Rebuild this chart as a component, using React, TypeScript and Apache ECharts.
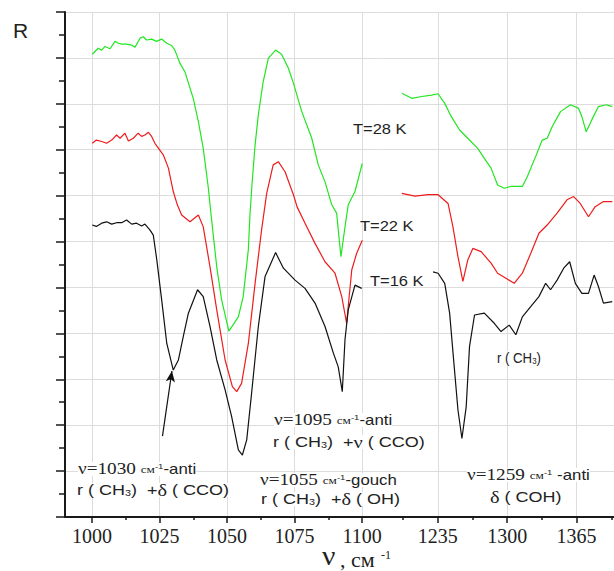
import React, { useEffect, useRef } from 'react';
import * as echarts from 'echarts';

// ---- axis ticks ----
const leftMajorTicks = [1000, 1025, 1050, 1075, 1100];
const leftMinorTicks = [1012.5, 1037.5, 1062.5, 1087.5];
const rightMajorTicks = [1235, 1300, 1365];
const rightMinorTicks = [1202.5, 1267.5, 1332.5, 1397.5];

// ---- left panel (1000-1100 cm-1) ----
const greenLeftX = [1000.1, 1001.1, 1002.3, 1003.6, 1004.8, 1006.7, 1008.5, 1009.8, 1011, 1012.8, 1014.7, 1015.9, 1017.8, 1019, 1020.2, 1022.1, 1023.9, 1025.8, 1027.7, 1029.5, 1030.7, 1032.6, 1034.4, 1037.5, 1039.4, 1041.2, 1043.1, 1044.1, 1046.2, 1048, 1050.7, 1054.2, 1056, 1057.9, 1058.5, 1059.2, 1060.4, 1061.6, 1063.4, 1065.3, 1068, 1070.2, 1072.7, 1074.6, 1077.7, 1081.4, 1083.8, 1086.3, 1088.8, 1090.6, 1092.2, 1093.7, 1094.9, 1097.4, 1100.1];
const greenLeftY = [10.08, 10.14, 10.21, 10.17, 10.25, 10.2, 10.36, 10.32, 10.3, 10.3, 10.28, 10.23, 10.43, 10.46, 10.39, 10.41, 10.36, 10.41, 10.32, 10.27, 10.17, 9.88, 9.7, 9.12, 8.61, 8.03, 7.16, 6.58, 5.45, 4.73, 4.05, 4.36, 4.8, 5.82, 6.58, 7.2, 8.1, 8.76, 9.48, 9.99, 10.17, 10.08, 9.78, 9.45, 8.83, 8.25, 7.67, 7.3, 6.8, 6.62, 5.67, 6.32, 6.8, 7.09, 7.7];

const redLeftX = [1000.1, 1001.6, 1003.6, 1005.4, 1007.3, 1009.1, 1010.4, 1012.2, 1013.5, 1015.3, 1017.1, 1018.4, 1019.6, 1020.9, 1022.1, 1023.3, 1026.4, 1028.3, 1030.1, 1031.6, 1033.2, 1036.3, 1039.4, 1041.2, 1043.7, 1046.2, 1049.3, 1052, 1053.6, 1055.4, 1057.9, 1060.4, 1062.8, 1064.7, 1067.1, 1069, 1071.5, 1074.6, 1076, 1078.9, 1082.6, 1086.3, 1090, 1092.5, 1094.3, 1096.2, 1098, 1100.1];
const redLeftY = [8.14, 8.21, 8.18, 8.14, 8.21, 8.32, 8.25, 8.36, 8.19, 8.25, 8.36, 8.29, 8.32, 8.38, 8.29, 8.14, 7.89, 7.6, 7.09, 6.8, 6.58, 6.43, 6.58, 6.32, 5.45, 4.51, 3.42, 2.84, 2.73, 2.91, 3.78, 5.09, 6.25, 7.05, 7.67, 7.74, 7.52, 7.02, 6.75, 6.4, 5.96, 5.56, 5.31, 4.8, 4.22, 5.38, 5.74, 6.03];

const blackLeftX = [1000.1, 1001.6, 1003.6, 1005.4, 1007.3, 1009.1, 1011, 1012.8, 1014.7, 1016.5, 1018.4, 1019.6, 1021.5, 1022.7, 1024, 1025.8, 1027.7, 1030.1, 1032, 1033.8, 1035.7, 1039.1, 1041.2, 1043.7, 1046.2, 1049.3, 1051.7, 1054.2, 1055.7, 1057.3, 1059.1, 1061.6, 1064.1, 1068, 1070.9, 1075.2, 1078.9, 1082.6, 1086.3, 1089.4, 1091.2, 1092.7, 1093.7, 1094.9, 1097.4, 1099.9];
const blackLeftY = [6.36, 6.33, 6.4, 6.43, 6.38, 6.41, 6.41, 6.47, 6.38, 6.4, 6.34, 6.38, 6.25, 6.14, 5.6, 4.73, 3.78, 3.2, 3.42, 3.93, 4.44, 4.95, 4.8, 4.15, 3.42, 2.77, 2.19, 1.46, 1.35, 1.68, 2.69, 4.15, 5.24, 5.76, 5.42, 5.16, 4.98, 4.66, 4.15, 3.57, 3.27, 2.73, 3.86, 4.51, 5.05, 4.98];

// ---- right panel (1235-1365 cm-1) ----
const greenRightX = [1201.3, 1210.6, 1219.9, 1229.2, 1235.3, 1241.5, 1247.7, 1255.4, 1263.1, 1272.4, 1278.6, 1284.9, 1291, 1297.2, 1303.4, 1314.2, 1318.8, 1326.6, 1332.8, 1337.4, 1342.1, 1349.9, 1359.2, 1366.9, 1369.9, 1374, 1379.2, 1385.4, 1393.1, 1398.4];
const greenRightY = [9.23, 9.12, 9.16, 9.19, 9.22, 9.01, 8.72, 8.43, 8.25, 8.03, 7.81, 7.6, 7.23, 7.16, 7.2, 7.2, 7.41, 7.85, 8.21, 8.25, 8.5, 8.83, 8.98, 8.9, 8.72, 8.39, 8.65, 8.94, 8.98, 8.94];

const redRightX = [1201.3, 1213.6, 1226, 1235.3, 1244.6, 1249.2, 1253.9, 1258.5, 1263.1, 1267.8, 1275.6, 1284.9, 1291, 1298.8, 1306.5, 1314.2, 1322, 1329.7, 1337.4, 1346.7, 1356, 1362.2, 1368.4, 1376.1, 1382.4, 1390.1, 1398.4];
const redRightY = [7.05, 6.99, 7.02, 7.02, 6.83, 6.32, 5.67, 5.13, 5.6, 5.85, 5.78, 5.53, 5.31, 5.2, 5.09, 5.31, 5.74, 6.18, 6.36, 6.62, 6.91, 6.98, 6.83, 6.54, 6.76, 6.87, 6.87];

const blackRightX = [1230.6, 1235.3, 1241.5, 1246.1, 1250.1, 1253.9, 1257.6, 1261.6, 1264.7, 1269.4, 1278.6, 1287.9, 1294.2, 1301.9, 1308.1, 1314.2, 1322, 1329.7, 1336, 1340.6, 1346.7, 1352.9, 1358.5, 1363.8, 1369.9, 1376.1, 1381.4, 1385.4, 1390.1, 1398.4];
const blackRightY = [5.34, 5.31, 5.09, 4.44, 3.35, 2.33, 1.71, 2.4, 3.71, 4.4, 4.44, 4.22, 4.04, 4.18, 3.97, 4.36, 4.58, 4.8, 5.09, 4.95, 5.16, 5.42, 5.56, 5.09, 4.87, 4.87, 5.27, 5.02, 4.66, 4.69];

// arrow pointing at the 1030 band of the 16 K curve
const arrowFrom = [1026.1, 1.76];
const arrowTo = [1029.6, 3.18];

const GREEN = '#22e622';
const RED = '#ee1c1c';
const BLACK = '#111111';
const SERIF = '"Liberation Serif", "Times New Roman", serif';
const SANS = '"Liberation Sans", Arial, sans-serif';
const GRID = '#dcdcdc';
const AXIS = '#1a1a1a';

const pairs = (xs: number[], ys: number[]) => xs.map((x, i) => [x, ys[i]]);

const richStyles = {
  s: { fontFamily: SERIF, fontSize: 16, lineHeight: 14 },
  c: { fontFamily: SERIF, fontSize: 11, lineHeight: 14 },
  p: { fontFamily: SANS, fontSize: 8, lineHeight: 8, verticalAlign: 'top' },
  a: { fontFamily: SANS, fontSize: 14, lineHeight: 14 },
  t: { fontFamily: SANS, fontSize: 15, lineHeight: 14 },
  b: { fontFamily: SANS, fontSize: 9, lineHeight: 9, verticalAlign: 'bottom' },
  d: { fontFamily: SERIF, fontSize: 17, lineHeight: 14 },
};

const label = (x: number, y: number, text: string, scaleX = 1.2, bg = true) => ({
  type: 'text',
  x,
  y,
  scaleX,
  silent: true,
  z: 100,
  style: {
    text,
    rich: richStyles,
    fill: '#222',
    verticalAlign: 'middle',
    align: 'left',
    backgroundColor: bg ? '#ffffff' : undefined,
  },
});

const plain = (x: number, y: number, text: string, size: number, scaleX = 1, family = SANS, lineHeight?: number) => ({
  type: 'text',
  x,
  y,
  scaleX,
  silent: true,
  z: 100,
  style: { text, fill: '#222', fontFamily: family, fontSize: size, lineHeight, verticalAlign: 'middle', align: 'left' },
});

export default function App() {
  const ref = useRef<HTMLDivElement>(null);
  useEffect(() => {
    if (!ref.current) return;
    const chart = echarts.init(ref.current, null, { renderer: 'svg' });
    const lineSeries = (name: string, data: number[][], color: string, xi: number, yi: number, extra = {}) => ({
      name,
      type: 'line',
      xAxisIndex: xi,
      yAxisIndex: yi,
      data,
      showSymbol: false,
      symbol: 'none',
      lineStyle: { color, width: 1.2 },
      itemStyle: { color },
      ...extra,
    });
    const fmt = (v: number) => String(v);
    const option = {
      animation: false,
      textStyle: { fontFamily: SANS },
      grid: [
        { left: 65, top: 12, width: 317.25, height: 505 },
        { left: 382.25, top: 12, width: 233.7, height: 505 },
      ],
      xAxis: [
        {
          type: 'value', gridIndex: 0, min: 990, max: 1107.5, position: 'bottom',
          axisLine: { onZero: false, lineStyle: { color: AXIS, width: 2 } },
          axisTick: { customValues: leftMajorTicks, length: 6, lineStyle: { color: AXIS, width: 1.5 } },
          axisLabel: { customValues: leftMajorTicks, formatter: fmt, fontFamily: SERIF, fontSize: 20, color: '#222', margin: 9 },
          splitLine: { show: true, lineStyle: { color: GRID, width: 1 } },
        },
        {
          type: 'value', gridIndex: 0, min: 990, max: 1107.5, position: 'bottom',
          axisLine: { show: false, onZero: false },
          axisTick: { customValues: leftMinorTicks, length: 3, lineStyle: { color: AXIS, width: 1.5 } },
          axisLabel: { show: false },
          splitLine: { show: false },
        },
        {
          type: 'value', gridIndex: 1, min: 1183, max: 1400, position: 'bottom',
          axisLine: { onZero: false, lineStyle: { color: AXIS, width: 2 } },
          axisTick: { customValues: rightMajorTicks, length: 6, lineStyle: { color: AXIS, width: 1.5 } },
          axisLabel: { customValues: rightMajorTicks, formatter: fmt, fontFamily: SERIF, fontSize: 20, color: '#222', margin: 9 },
          splitLine: { show: true, lineStyle: { color: GRID, width: 1 } },
        },
        {
          type: 'value', gridIndex: 1, min: 1183, max: 1400, position: 'bottom',
          axisLine: { show: false, onZero: false },
          axisTick: { customValues: rightMinorTicks, length: 3, lineStyle: { color: AXIS, width: 1.5 } },
          axisLabel: { show: false },
          splitLine: { show: false },
        },
      ],
      yAxis: [
        {
          type: 'value', gridIndex: 0, min: 0, max: 11, interval: 1,
          axisLine: { show: true, onZero: false, lineStyle: { color: AXIS, width: 2 } },
          axisTick: { show: true, length: 9, lineStyle: { color: AXIS, width: 1.5 } },
          minorTick: { show: true, splitNumber: 2, length: 6, lineStyle: { color: AXIS, width: 1.5 } },
          axisLabel: { show: false },
          splitLine: { show: true, lineStyle: { color: GRID, width: 1 } },
        },
        {
          type: 'value', gridIndex: 1, min: 0, max: 11, interval: 1,
          axisLine: { show: false },
          axisTick: { show: false },
          axisLabel: { show: false },
          splitLine: { show: true, lineStyle: { color: GRID, width: 1 } },
        },
      ],
      series: [
        lineSeries('T=28 K', pairs(greenLeftX, greenLeftY), GREEN, 0, 0),
        lineSeries('T=22 K', pairs(redLeftX, redLeftY), RED, 0, 0),
        lineSeries('T=16 K', pairs(blackLeftX, blackLeftY), BLACK, 0, 0, {
          markLine: {
            silent: true,
            animation: false,
            symbol: ['none', 'arrow'],
            symbolSize: [7, 11],
            label: { show: false },
            lineStyle: { color: BLACK, width: 1.2, type: 'solid' },
            data: [[{ coord: arrowFrom }, { coord: arrowTo }]],
          },
        }),
        lineSeries('T=28 K ', pairs(greenRightX, greenRightY), GREEN, 2, 1),
        lineSeries('T=22 K ', pairs(redRightX, redRightY), RED, 2, 1),
        lineSeries('T=16 K ', pairs(blackRightX, blackRightY), BLACK, 2, 1),
      ],
      graphic: [
        plain(13, 30, 'R', 21),
        plain(322, 556, 'ν', 27, 1.1, SERIF, 20),
        plain(340, 559, ', см', 22, 1, SERIF, 18),
        plain(381, 555, '-1', 12, 1, SERIF, 12),
        plain(353, 129, 'T=28 K', 15, 1.1),
        plain(360, 226, 'T=22 K', 15, 1.1),
        plain(370, 281, 'T=16 K', 15, 1.1),
        label(78, 469, '{s|ν=1030 }{c|см}{p|-1}{a|-anti}'),
        label(77, 490, '{t|r ( CH}{b|3}{t|)  +}{d|δ}{t| ( CCO)}'),
        label(274, 420, '{s|ν=1095 }{c|см}{p|-1}{a|-anti}'),
        label(273, 442, '{t|r ( CH}{b|3}{t|)  +}{d|ν}{t| ( CCO)}'),
        label(260, 480, '{s|ν=1055 }{c|см}{p|-1}{a|-gouch}'),
        label(261, 499, '{t|r ( CH}{b|3}{t|)  +}{d|δ}{t| ( OH)}'),
        label(467, 475, '{s|ν=1259 }{c|см}{p|-1}{a| -anti}'),
        label(490, 497, '{d|δ}{t| ( COH)}'),
        label(497, 358, '{t|r ( CH}{b|3}{t|)}', 0.88),
      ],
    };
    chart.setOption(option as any);
    return () => chart.dispose();
  }, []);
  return <div ref={ref} style={{ position: 'fixed', left: 0, top: 0, width: 614, height: 571, background: '#fff' }} />;
}
